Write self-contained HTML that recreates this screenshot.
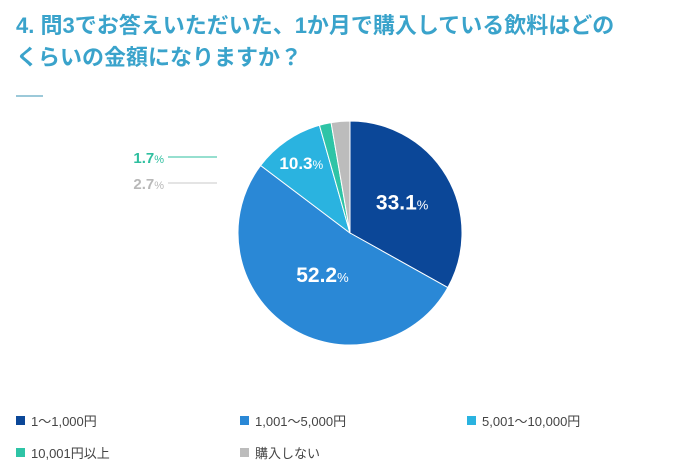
<!DOCTYPE html>
<html><head><meta charset="utf-8">
<style>
body{margin:0;width:700px;height:474px;background:#fff;font-family:"Liberation Sans","Noto Sans CJK JP",sans-serif;overflow:hidden;position:relative}
#title{position:absolute;left:16px;top:10px;color:#3aa3cb;font-size:22px;font-weight:bold;line-height:32px;font-family:"Liberation Sans","Noto Sans CJK JP",sans-serif}
#rule{position:absolute;left:16px;top:95px;width:27px;height:2px;background:#9cc9d9}
.leg{position:absolute;font-size:13px;color:#444;display:flex;align-items:center}
.leg span.sq{width:9px;height:9px;display:inline-block;margin-right:6px}
</style></head><body>
<div id="title">4. 問3でお答えいただいた、1か月で購入している飲料はどの<br>くらいの金額になりますか？</div>
<div id="rule"></div>
<svg id="pie" width="700" height="474" style="position:absolute;left:0;top:0"></svg>
<div id="legend"></div>
<script>
const categories=["1〜1,000円","1,001〜5,000円","5,001〜10,000円","10,001円以上","購入しない"];
const values=[33.1,52.2,10.3,1.7,2.7];
const colors=["#0b4798","#2a88d6","#2ab3e0","#2ec4a6","#bcbcbc"];
const NS="http://www.w3.org/2000/svg";
const svg=document.getElementById('pie');
const cx=350,cy=233,r=112;
const total=values.reduce((a,b)=>a+b,0);
function pt(a,rr){return [cx+rr*Math.sin(a),cy-rr*Math.cos(a)];}
let a0=0;
values.forEach((v,i)=>{
 const a1=a0+v/total*2*Math.PI;
 const p0=pt(a0,r),p1=pt(a1,r);
 const path=document.createElementNS(NS,'path');
 path.setAttribute('d',`M${cx},${cy}L${p0[0]},${p0[1]}A${r},${r} 0 ${a1-a0>Math.PI?1:0} 1 ${p1[0]},${p1[1]}Z`);
 path.setAttribute('fill',colors[i]);
 path.setAttribute('stroke','#fff');path.setAttribute('stroke-width','1');
 
 
 svg.appendChild(path);
 const mid=(a0+a1)/2;
 if(v>=5){
  const rr=v>40?0.45*r:(v>20?0.54*r:0.77*r);
  const p=pt(mid,rr);
  const t=document.createElementNS(NS,'text');
  t.setAttribute('x',p[0]);t.setAttribute('y',p[1]+7);
  t.setAttribute('text-anchor','middle');t.setAttribute('fill','#fff');
  t.setAttribute('font-weight','bold');t.setAttribute('font-size',v>20?'21':'17');
  t.innerHTML=v.toFixed(1)+'<tspan font-size="'+(v>20?13:12)+'" font-weight="normal">%</tspan>';
  
  
  svg.appendChild(t);
 }
 a0=a1;
});
const smallIdx=[3,4];const ys=[157,183];
smallIdx.forEach((i,k)=>{
 const y=ys[k];
 const t=document.createElementNS(NS,'text');
 t.setAttribute('x',164);t.setAttribute('y',y+6);t.setAttribute('text-anchor','end');
 t.setAttribute('fill',i===3?'#2ebf9f':'#b8b8b8');t.setAttribute('font-weight','bold');t.setAttribute('font-size','15');
 t.innerHTML=values[i].toFixed(1)+'<tspan font-size="11" font-weight="normal">%</tspan>';
 
 
 svg.appendChild(t);
 const l=document.createElementNS(NS,'line');
 l.setAttribute('x1',168);l.setAttribute('x2',217);l.setAttribute('y1',y);l.setAttribute('y2',y);
 l.setAttribute('stroke',i===3?'#2ebf9f':'#c8c8c8');l.setAttribute('stroke-width','1');
 
 
 svg.appendChild(l);
});
const legend=document.getElementById('legend');
const lx=[16,240,467],ly=[411,443];
categories.forEach((c,i)=>{
 const d=document.createElement('div');d.className='leg';
 d.style.left=lx[i%3]+'px';d.style.top=ly[Math.floor(i/3)]+'px';
 d.innerHTML='<span class="sq" style="background:'+colors[i]+'"></span>'+c;
 
 
 legend.appendChild(d);
});
</script>
</body></html>
